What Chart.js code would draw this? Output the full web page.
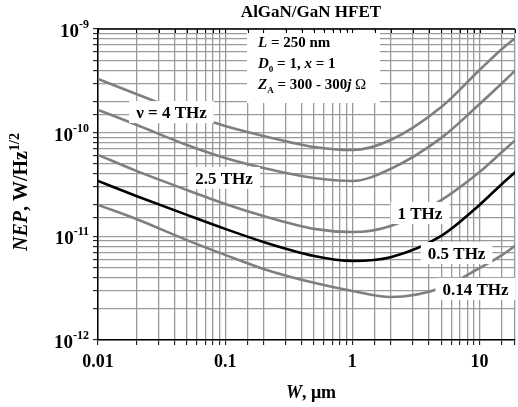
<!DOCTYPE html>
<html>
<head>
<meta charset="utf-8">
<script src="https://cdn.jsdelivr.net/npm/chart.js@4.4.0/dist/chart.umd.min.js"></script>
<style>
  html, body { margin: 0; padding: 0; background: #fff; }
</style>
</head>
<body>
<canvas id="graficoNep" width="518" height="407"></canvas>
<script>
// larguras do canal W (um) e NEP (W/Hz^1/2)
const larguras = [0.01, 0.02, 0.05, 0.1, 0.2, 0.5, 1, 2, 5, 10, 15, 20];
const nep4THz = [3.30e-10, 2.36e-10, 1.53e-10, 1.16e-10, 9.3e-11, 7.28e-11, 6.8e-11, 8.5e-11, 1.77e-10, 4.02e-10, 6.4e-10, 8.55e-10];
const nep25THz = [1.66e-10, 1.19e-10, 7.6e-11, 5.7e-11, 4.57e-11, 3.66e-11, 3.42e-11, 4.47e-11, 8.9e-11, 1.89e-10, 3.0e-10, 4.2e-10];
const nep1THz = [6.1e-11, 4.28e-11, 2.8e-11, 2.05e-11, 1.57e-11, 1.18e-11, 1.10e-11, 1.26e-11, 2.24e-11, 4.18e-11, 6.5e-11, 8.9e-11];
const nep05THz = [3.42e-11, 2.45e-11, 1.61e-11, 1.18e-11, 8.83e-12, 6.47e-12, 5.8e-12, 6.3e-12, 1.01e-11, 2.01e-11, 3.2e-11, 4.37e-11];
const nep014THz = [2.01e-11, 1.47e-11, 9.2e-12, 6.62e-12, 4.85e-12, 3.56e-12, 2.97e-12, 2.6e-12, 3.18e-12, 4.95e-12, 6.6e-12, 8.45e-12];

const ticksX = [0.01, 0.1, 1, 10];
const rotulosX = ['0.01', '0.1', '1', '10'];
const ticksY = [1e-12, 1e-11, 1e-10, 1e-9];
const expoentesY = ['-12', '-11', '-10', '-9'];

const serifa = '"Liberation Serif", "Times New Roman", serif';
const cinza = '#7f7f7f';

const series = [
  { nome: '4 THz', valores: nep4THz, cor: cinza },
  { nome: '2.5 THz', valores: nep25THz, cor: cinza },
  { nome: '1 THz', valores: nep1THz, cor: cinza },
  { nome: '0.5 THz', valores: nep05THz, cor: '#000' },
  { nome: '0.14 THz', valores: nep014THz, cor: cinza }
];

// rotulos das curvas, ancorados em coordenadas dos eixos
const rotulos = [
  { texto: '\u03bd = 4 THz', x: 0.0378, y: 1.58e-10 },
  { texto: '2.5 THz', x: 0.098, y: 3.66e-11 },
  { texto: '1 THz', x: 3.4, y: 1.68e-11 },
  { texto: '0.5 THz', x: 6.6, y: 6.9e-12 },
  { texto: '0.14 THz', x: 9.3, y: 3.11e-12 }
];

function escreve(c, partes, x, y, alinha) {
  let total = 0;
  partes.forEach(p => { c.font = p[1]; total += c.measureText(p[0]).width; });
  let px = x;
  if (alinha === 'center') px = x - total / 2;
  if (alinha === 'right') px = x - total;
  c.textAlign = 'left';
  c.textBaseline = 'alphabetic';
  partes.forEach(p => {
    c.font = p[1];
    c.fillText(p[0], px, y + (p[2] || 0));
    px += c.measureText(p[0]).width;
  });
  return total;
}

const textos = {
  id: 'textos',
  afterDatasetsDraw(chart) {
    const c = chart.ctx;
    const sx = chart.scales.x, sy = chart.scales.y;
    c.save();
    // caixas com o nome de cada curva
    rotulos.forEach(r => {
      const px = sx.getPixelForValue(r.x), py = sy.getPixelForValue(r.y);
      c.font = 'bold 17px ' + serifa;
      const w = c.measureText(r.texto).width;
      c.fillStyle = '#fff';
      c.fillRect(px - w / 2 - 7, py - 11, w + 14, 22);
      c.fillStyle = '#000';
      escreve(c, [[r.texto, 'bold 17px ' + serifa]], px, py + 6, 'center');
    });
    // caixa dos parametros
    c.fillStyle = '#fff';
    c.fillRect(247, 31, 133, 72);
    c.fillStyle = '#000';
    const b = 'bold 15px ' + serifa, bi = 'italic bold 15px ' + serifa, pq = 'bold 9px ' + serifa;
    escreve(c, [['L', bi], [' = 250 nm', b]], 258, 47);
    escreve(c, [['D', bi], ['0', pq, 4], [' = 1, ', b], ['x', bi], [' = 1', b]], 258, 68);
    escreve(c, [['Z', bi], ['A', pq, 4], [' = 300 - 300', b], ['j', bi], [' \u03a9', '15px ' + serifa]], 258, 89);
    c.restore();
  },
  afterDraw(chart) {
    const c = chart.ctx;
    const a = chart.chartArea;
    const sx = chart.scales.x, sy = chart.scales.y;
    c.save();
    // borda superior com marcas
    c.strokeStyle = '#000';
    c.lineWidth = 1.5;
    c.beginPath();
    c.moveTo(a.left, a.top);
    c.lineTo(a.right, a.top);
    c.stroke();
    c.lineWidth = 1;
    c.beginPath();
    sx.ticks.forEach(t => {
      const px = Math.round(sx.getPixelForValue(t.value)) + 0.5;
      c.moveTo(px, a.top);
      c.lineTo(px, a.top + 4);
    });
    c.stroke();
    c.fillStyle = '#000';
    ticksX.forEach((v, i) => {
      escreve(c, [[rotulosX[i], 'bold 18px ' + serifa]], sx.getPixelForValue(v), 367, 'center');
    });
    ticksY.forEach((v, i) => {
      const py = sy.getPixelForValue(v);
      escreve(c, [['10', 'bold 19px ' + serifa, 8], [expoentesY[i], 'bold 12px ' + serifa, -1]], 89, py, 'right');
    });
    escreve(c, [['AlGaN/GaN HFET', 'bold 17px ' + serifa]], 311, 17, 'center');
    escreve(c, [['W', 'italic bold 18px ' + serifa], [', \u03bcm', 'bold 18px ' + serifa]], 311, 398, 'center');
    c.translate(27, 251);
    c.rotate(-Math.PI / 2);
    escreve(c, [['NEP', 'italic bold 20px ' + serifa], [', W/Hz', 'bold 20px ' + serifa], ['1/2', 'bold 14px ' + serifa, -8]], 0, 0);
    c.restore();
  }
};

const ctx = document.getElementById('graficoNep').getContext('2d');
const graficoNep = new Chart(ctx, {
  type: 'line',
  data: {
    datasets: series.map(s => ({
      label: s.nome,
      data: larguras.map((w, i) => ({ x: w, y: s.valores[i] })),
      borderColor: s.cor,
      borderWidth: 2.6,
      pointRadius: 0,
      fill: false,
      cubicInterpolationMode: 'monotone'
    }))
  },
  options: {
    responsive: false,
    animation: false,
    devicePixelRatio: 1,
    layout: { padding: { top: 29, left: 0, right: 0, bottom: 0 } },
    plugins: { legend: { display: false }, tooltip: { enabled: false } },
    scales: {
      x: {
        type: 'logarithmic',
        min: 0.01,
        max: 19,
        afterFit: s => { s.height = 67; },
        grid: { color: '#9a9a9a', lineWidth: 1.3, tickColor: '#000', tickLength: 5, tickWidth: 1 },
        border: { color: '#000', width: 1.5 },
        ticks: { autoSkip: false, maxRotation: 0, callback: () => '' }
      },
      y: {
        type: 'logarithmic',
        min: 1e-12,
        max: 1e-9,
        afterFit: s => { s.width = 98; },
        grid: { color: '#9a9a9a', lineWidth: 1.3, tickColor: '#000', tickLength: 5, tickWidth: 1 },
        border: { color: '#000', width: 1.5 },
        ticks: { autoSkip: false, callback: () => '' }
      }
    }
  },
  plugins: [textos]
});
</script>
</body>
</html>
